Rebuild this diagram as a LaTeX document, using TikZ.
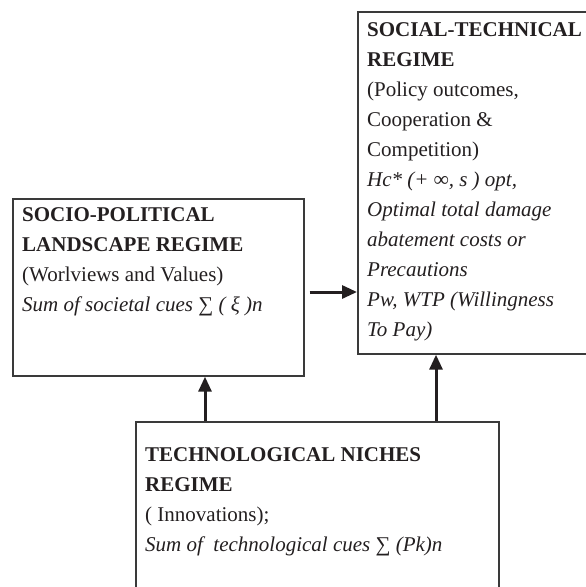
\documentclass[tikz,border=0pt]{standalone}
\usepackage{fontspec}
\setmainfont{Liberation Serif}
\usetikzlibrary{arrows.meta}
\definecolor{boxgray}{HTML}{3A3A3A}
\definecolor{ink}{HTML}{231F20}
\begin{document}
\begin{tikzpicture}[x=1pt, y=1pt,
    regime/.style ={rectangle, draw=boxgray, line width=1.7pt, anchor=north west, inner sep=0pt},
    cues/.style ={anchor=north west, inner sep=0pt, align=left, text=ink,
      font=\fontsize{21}{30}\selectfont},
    link/.style ={ink, line width=3pt, -{Triangle[length=15pt, width=13pt]}}]
   \useasboundingbox (0,0) rectangle (586,-587);
   \clip (0,0) rectangle (586,-587);
   \node[regime, minimum width=260pt, minimum height=342pt] (social)    at (357,-11)  {};
   \node[regime, minimum width=291pt, minimum height=177pt] (landscape) at (12,-198)  {};
   \node[regime, minimum width=363pt, minimum height=200pt] (niches)    at (135,-421) {};

   \node[cues] (socialtext) at ([shift={(10pt,-11pt)}]social.north west)
     {\textbf{SOCIAL-TECHNICAL}\\ \textbf{REGIME}\\ (Policy outcomes,\\ Cooperation \&\\ Competition)\\
      \textit{Hc* (+ ∞, s ) opt,}\\ \textit{Optimal total damage}\\ \textit{abatement costs or}\\
      \textit{Precautions}\\ \textit{Pw, WTP (Willingness}\\ \textit{To Pay)}};
   \node[cues] (landscapetext) at ([shift={(10pt,-9pt)}]landscape.north west)
     {\textbf{SOCIO-POLITICAL}\\ \textbf{LANDSCAPE REGIME}\\ (Worlviews and Values)\\
      \textit{Sum of societal cues ∑ ( ξ )n}};
   \node[cues] (nichestext) at ([shift={(10pt,-26pt)}]niches.north west)
     {\textbf{TECHNOLOGICAL NICHES}\\ \textbf{REGIME}\\ ( Innovations);\\
      \textit{Sum of~ technological cues ∑ (Pk)n}};

   \coordinate (landscapeout) at ([xshift=5pt]landscape.east |- 0,-292);
   \coordinate (nichesleft)   at ([xshift=70pt]niches.north west);
   \coordinate (nichesright)  at ([xshift=301pt]niches.north west);

   \draw[link] (landscapeout) to (landscapeout -| social.west);
   \draw[link] (nichesleft)   to (nichesleft |- landscape.south);
   \draw[link] (nichesright)  to (nichesright |- social.south);

 \end{tikzpicture}
\end{document}
